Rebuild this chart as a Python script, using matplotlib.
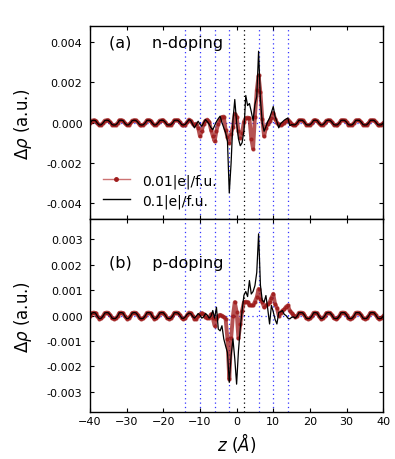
"""
Charge density difference along z for n- and p-doping (two stacked panels).
Output: out.png
"""
import numpy as np
import matplotlib.pyplot as plt
from matplotlib.lines import Line2D

# === Data (values in units of 1e-4 a.u.) ===
# sampling grid along z (Angstrom), 0.5 A steps
z = np.linspace(-40, 40, 161)

# bulk ripple, shared by all curves (z = -40 ... -16.5 and z = 16.5 ... 40)
bulk_left = [-0.25, 1.0, 1.2, 1.0, -0.3, -1.2, -1.1, -0.25, 1.0,
             1.2, 1.1, 0.25, -1.0, -1.2, -1.1, -0.25, 1.1,
             1.2, 1.0, -0.3, -1.2, -1.1, -0.25, 1.0,
             1.2, 1.1, 0.25, -1.0, -1.2, -1.1, -0.25, 1.1,
             1.2, 1.0, -0.3, -1.2, -1.1, -0.25, 1.0,
             1.2, 1.1, 0.25, -1.0, -1.2, -1.1, -0.25, 1.1,
             1.2]
bulk_right = [-0.25, 1.1, 1.2, 1.1, 0.25, -1.0, -1.2, -1.1, -0.25, 1.1,
              1.2, 1.0, -0.3, -1.2, -1.1, -0.25, 1.0,
              1.2, 1.1, 0.25, -1.0, -1.2, -1.1, -0.25, 1.1,
              1.2, 1.1, 0.25, -1.0, -1.2, -1.1, -0.25, 1.1,
              1.2, 1.1, 0.25, -1.0, -1.2, -1.1, -0.25, 1.1,
              1.2, 1.1, 0.25, -1.0, -1.2, -1.1, -0.25]

# interface region z = -16 ... 16
n_red_mid = [1.2, 0.3, -1.1, -1.4, -1.0, 0.3, 1.5, 1.0, -0.5, -1.2,
             -0.5, -2.5, -6.8, -4.0, -0.5, 1.0, 1.5, 0.5, -3.5, -6.5,
             -9.3, -4.0, -0.5, 1.5, 2.8, 3.0, -3.5, -7.0, -10.0, -5.5,
             -2.0, 4.5, 3.0, -4.0, -7.5, -5.0, 0.5, 2.3, 2.5, 2.3,
             -8.0, -13.0, 3.0, 16.0, 23.5, 15.0, 2.0, -6.8, -2.6, -0.5,
             0.7, 2.5, 4.8, 2.0, 0.0, -1.0, -1.0, -0.5, 0.0, 0.8,
             1.5, 0.5, -0.8, -1.3, -1.3]
n_black_mid = [1.1, 0.25, -1.0, -1.2, -0.8, 0.3, 1.5, 1.0, -0.8, -2.6,
               -1.0, 0.7, -0.8, -1.8, 0.0, 1.5, 0.5, -0.8, -2.5, -3.5,
               -1.5, 0.5, 2.0, 3.2, 0.0, -2.6, -5.0, -9.0, -35.0, -20.0,
               1.0, 11.5, 0.0, -8.0, -11.5, -10.0, -4.0, 13.5, 8.5, 9.5,
               5.5, 1.0, 9.0, 13.0, 35.5, 11.5, 0.0, -4.3, -2.0, 0.5,
               2.3, 5.0, 8.0, 3.0, 0.5, -2.6, -0.5, 0.3, 1.2, 1.8,
               2.3, -1.5, -1.0, -1.1, -1.1]
p_red_mid = [1.1, 0.3, -1.0, -1.3, -1.0, 0.3, 1.2, 1.0, 0.0, -1.2,
             -1.2, -0.2, 0.5, 1.0, 0.5, -0.5, -1.0, -0.8, 0.5, -1.0,
             -4.0, -1.5, 0.0, 0.3, 0.0, -0.5, -1.3, -9.2, -25.0, -9.0,
             0.0, 5.3, 1.5, -9.0, -3.5, 2.0, 5.3, 5.5, 5.3, 4.2,
             4.0, 4.0, 5.5, 7.2, 10.5, 6.5, 5.3, 3.3, 4.0, 4.5,
             5.3, 7.0, 8.6, 4.5, 3.0, 0.0, 1.0, 2.0, 2.5, 3.5,
             4.0, 2.0, 1.0, 0.2, -0.5]
p_black_mid = [1.0, 0.2, -1.0, -1.1, -0.5, 0.5, 1.0, 0.8, -0.3, -1.0,
               -0.2, 0.8, 0.2, -1.0, -0.5, 0.8, 0.2, -1.0, -0.3, 2.0,
               -1.0, 3.3, -5.3, -6.0, -4.0, -9.2, -12.0, -14.5, -26.3, -15.8,
               -9.2, -17.0, -27.0, -14.0, -5.0, 2.0, 8.0, 9.5, 7.5, 13.8,
               8.5, 9.5, 11.8, 17.0, 32.2, 12.0, 6.0, 5.3, 7.9, 2.6,
               -3.3, 4.0, 1.5, -1.5, -3.3, 1.3, 1.5, 2.0, 0.5, 0.0,
               -1.0, -1.3, -0.7, -0.5, -1.0]

# layer positions (dotted guides)
layer_blue = [-14, -10, -6, -2, 6, 10, 14]
layer_black = [2]

labels = ['0.01|e|/f.u.', '0.1|e|/f.u.']
panel_titles = ['(a)    n-doping', '(b)    p-doping']


def full(mid):
    return np.concatenate([bulk_left, mid, bulk_right]) * 1e-4


series = [(full(n_red_mid), full(n_black_mid)),
          (full(p_red_mid), full(p_black_mid))]

red = '#9e1a1a'
guide_dash = (0, (1, 2.5))

# === Figure ===
fig, axes = plt.subplots(2, 1, figsize=(3.95, 4.6), dpi=100, sharex=True)
fig.subplots_adjust(left=0.228, right=0.970, top=0.941, bottom=0.102, hspace=0)

ylims = [(-0.0048, 0.0048), (-0.0038, 0.0038)]
yticks = [np.arange(-0.004, 0.0041, 0.002), np.arange(-0.003, 0.0031, 0.001)]

for i, ax in enumerate(axes):
    r, k = series[i]
    for zl in layer_blue:
        ax.axvline(zl, color='#3333ff', ls=guide_dash, lw=0.9, zorder=1)
    for zl in layer_black:
        ax.axvline(zl, color='k', ls=guide_dash, lw=0.9, zorder=1)
    ax.axhline(0, color='#3333ff', ls=guide_dash, lw=0.9, zorder=1)

    ax.plot(z, r, color=red, lw=2.8, alpha=0.75, marker='.', ms=4,
            mec=red, mfc=red, zorder=2)
    ax.plot(z, k, color='k', lw=0.9, zorder=3)

    ax.set_xlim(-40, 40)
    ax.set_ylim(*ylims[i])
    ax.set_yticks(yticks[i])
    ax.set_yticklabels([f'{v:.3f}' if abs(v) > 1e-9 else '0.000' for v in yticks[i]])
    ax.tick_params(direction='in', top=True, right=True, length=3, width=0.8,
                   labelsize=8)
    ax.tick_params(axis='y', pad=5.5)
    ax.tick_params(axis='x', pad=3)
    ax.set_ylabel(r'$\Delta\rho$ (a.u.)', fontsize=12)
    ax.yaxis.set_label_coords(-0.19, 0.5)
    for s in ax.spines.values():
        s.set_linewidth(1.0)

axes[0].text(0.065, 0.917, panel_titles[0], transform=axes[0].transAxes,
             fontsize=11.5, va='center')
axes[1].text(0.065, 0.776, panel_titles[1], transform=axes[1].transAxes,
             fontsize=11.5, va='center')

axes[1].set_xticks(np.arange(-40, 41, 10))
axes[1].set_xlabel(r'$z\ (\AA)$', fontsize=12, labelpad=3)

handles = [Line2D([], [], color=(0.8, 0.45, 0.45), lw=1, marker='.', ms=5,
                  mfc=red, mec=red),
           Line2D([], [], color='k', lw=1)]
axes[0].legend(handles, labels, loc='lower left', bbox_to_anchor=(0.0, -0.005),
               frameon=False, fontsize=10, handlelength=2.0, handletextpad=0.85,
               labelspacing=0.4)

fig.savefig('out.png', dpi=100, facecolor='white')
print('Saved out.png')
